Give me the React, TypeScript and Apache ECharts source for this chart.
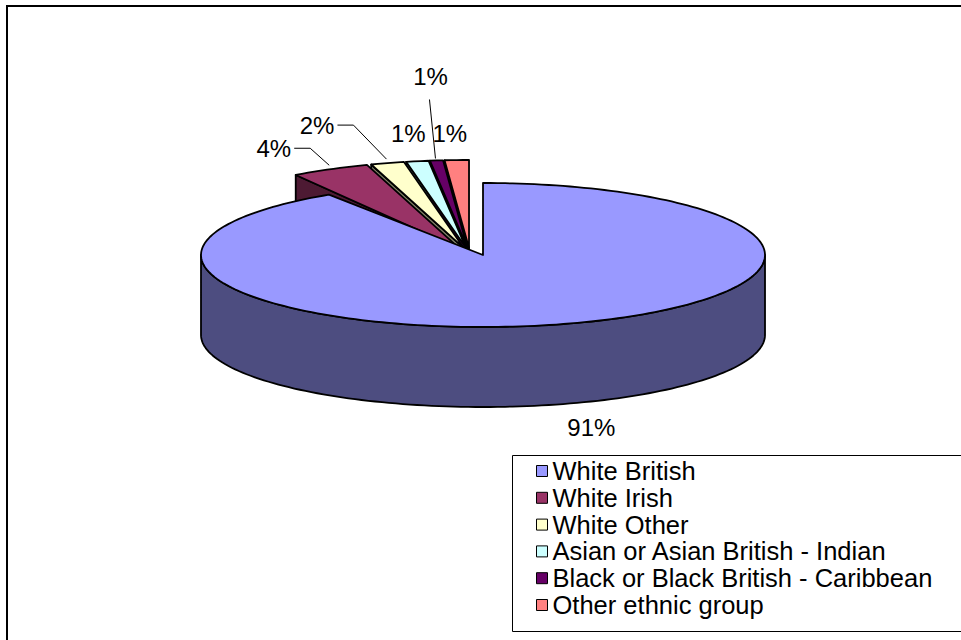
import React, { useEffect, useRef } from "react";
import * as echarts from "echarts";

// ---- data ----
const categories = [
  "White British",
  "White Irish",
  "White Other",
  "Asian or Asian British - Indian",
  "Black or Black British - Caribbean",
  "Other ethnic group",
];
const shares = [90.8, 4.2, 1.8, 1.2, 0.7, 1.3];

// ---- styling / layout ----
const topColors = ["#9999FF", "#993366", "#FFFFCC", "#CCFFFF", "#660066", "#FF8080"];
const sideColors = ["#4D4D80", "#4D1A33", "#808066", "#668080", "#330033", "#804040"];
const explodedFlags = [false, true, true, true, true, true];
// label position relative to the rim point at the slice bisector
const labelOffsets = [
  [28, 103],
  [-39, -21],
  [-53, -38],
  [-9, -28],
  [-6, -84],
  [-7, -27],
];
const leaderKinds = ["none", "elbow", "elbow", "none", "vertical", "none"];

const FONT = "'Liberation Sans', Arial, Helvetica, sans-serif";
const MAIN = { cx: 483, cy: 255, rx: 282, ry: 72, depth: 80 };
const EXPL = { gx: 470, gy: 255, rx: 300, ry: 88, depth: 80, e: 0.08 };

const total = shares.reduce((a, b) => a + b, 0);
const starts: number[] = [];
{
  let acc = 0;
  for (const s of shares) {
    starts.push(acc);
    acc += s;
  }
}

function pt(cx: number, cy: number, rx: number, ry: number, t: number, dy = 0): number[] {
  return [cx + rx * Math.sin(t), cy - ry * Math.cos(t) + dy];
}

function arc(cx: number, cy: number, rx: number, ry: number, a: number, b: number, dy = 0): number[][] {
  const n = Math.max(2, Math.ceil(Math.abs(b - a) / (Math.PI / 120)));
  const out: number[][] = [];
  for (let i = 0; i <= n; i++) {
    const t = a + ((b - a) * i) / n;
    out.push(pt(cx, cy, rx, ry, t, dy));
  }
  return out;
}

function makeRenderItem(idx: number) {
  return (params: any, api: any) => {
    const value = api.value(0);
    const startVal = api.value(1);
    const sum = api.value(2);
    const a = (startVal / sum) * Math.PI * 2;
    const b = ((startVal + value) / sum) * Math.PI * 2;
    const m = (a + b) / 2;
    const ex = explodedFlags[idx];
    const geo = ex
      ? {
          cx: EXPL.gx + EXPL.e * EXPL.rx * Math.sin(m),
          cy: EXPL.gy - EXPL.e * EXPL.ry * Math.cos(m),
          rx: EXPL.rx,
          ry: EXPL.ry,
          depth: EXPL.depth,
        }
      : { ...MAIN };
    const { cx, cy, rx, ry, depth } = geo;
    // draw order: far slices first
    const order = -Math.cos(m); // larger = nearer to viewer
    const base = Math.round((order + 1) * 100) * 10 + 100;
    const stroke = { stroke: "#000", lineWidth: 1.8, lineJoin: "round" };
    const children: any[] = [];

    // radial faces
    if (Math.sin(a) < -1e-6) {
      const p = pt(cx, cy, rx, ry, a);
      children.push({
        type: "polygon",
        z2: base + 1,
        shape: { points: [[cx, cy], p, [p[0], p[1] + depth], [cx, cy + depth]] },
        style: { fill: sideColors[idx], ...stroke },
      });
    }
    if (Math.sin(b) > 1e-6) {
      const p = pt(cx, cy, rx, ry, b);
      children.push({
        type: "polygon",
        z2: base + 1,
        shape: { points: [[cx, cy], p, [p[0], p[1] + depth], [cx, cy + depth]] },
        style: { fill: sideColors[idx], ...stroke },
      });
    }
    // outer wall (front half only)
    const fa = Math.max(a, Math.PI / 2);
    const fb = Math.min(b, (Math.PI * 3) / 2);
    if (fb > fa) {
      const topArc = arc(cx, cy, rx, ry, fa, fb);
      const botArc = arc(cx, cy, rx, ry, fb, fa, depth);
      children.push({
        type: "polygon",
        z2: base + 2,
        shape: { points: topArc.concat(botArc) },
        style: { fill: sideColors[idx], ...stroke },
      });
    }
    // top face
    children.push({
      type: "polygon",
      z2: base + 3,
      shape: { points: [[cx, cy]].concat(arc(cx, cy, rx, ry, a, b)) },
      style: { fill: topColors[idx], ...stroke },
    });

    // label
    const anchor = pt(cx, cy, rx, ry, m);
    const off = labelOffsets[idx];
    const lx = anchor[0] + off[0];
    const ly = anchor[1] + off[1];
    const kind = leaderKinds[idx];
    const pct = Math.round((value / sum) * 100) + "%";
    children.push({
      type: "text",
      z2: 5000,
      x: lx,
      y: ly,
      style: {
        text: pct,
        fontSize: 24,
        fontFamily: FONT,
        fill: "#000",
        align: kind === "elbow" ? "right" : "center",
        verticalAlign: "middle",
      },
    });
    if (kind === "elbow") {
      children.push({
        type: "polyline",
        z2: 4999,
        shape: { points: [[lx + 3, ly], [lx + 19, ly], [anchor[0] - 1, anchor[1] - 4]] },
        style: { stroke: "#000", lineWidth: 1, fill: null },
      });
    } else if (kind === "vertical") {
      children.push({
        type: "polyline",
        z2: 4999,
        shape: { points: [[lx - 1, ly + 23], [anchor[0] - 1, anchor[1] - 2]] },
        style: { stroke: "#000", lineWidth: 1, fill: null },
      });
    }
    return { type: "group", children };
  };
}

export default function App() {
  const ref = useRef<HTMLDivElement>(null);
  useEffect(() => {
    if (!ref.current) return;
    const chart = echarts.init(ref.current, null, { renderer: "svg" });
    const series = categories.map((name, i) => ({
      type: "custom",
      name,
      coordinateSystem: "none",
      silent: true,
      itemStyle: { color: topColors[i] },
      data: [[shares[i], starts[i], total]],
      renderItem: makeRenderItem(i),
    }));
    chart.setOption({
      animation: false,
      backgroundColor: "#fff",
      legend: {
        orient: "vertical",
        left: 531,
        top: 453,
        itemWidth: 11,
        itemHeight: 11,
        itemGap: 0.8,
        icon: "rect",
        selectedMode: false,
        itemStyle: { borderColor: "#000", borderWidth: 1 },
        textStyle: { fontSize: 25.5, lineHeight: 24, fontFamily: FONT, color: "#000" },
        data: categories,
      },
      graphic: [
        {
          type: "rect",
          shape: { x: 7, y: 6, width: 1000, height: 700 },
          style: { fill: "none", stroke: "#000", lineWidth: 2 },
          z: 0,
        },
        {
          type: "rect",
          shape: { x: 512.5, y: 455.5, width: 460, height: 176 },
          style: { fill: "#fff", stroke: "#000", lineWidth: 1 },
          z: 0,
        },
      ],
      series,
    });
    return () => chart.dispose();
  }, []);
  return (
    <div
      ref={ref}
      style={{ position: "fixed", left: 0, top: 0, width: 961, height: 640 }}
    />
  );
}
